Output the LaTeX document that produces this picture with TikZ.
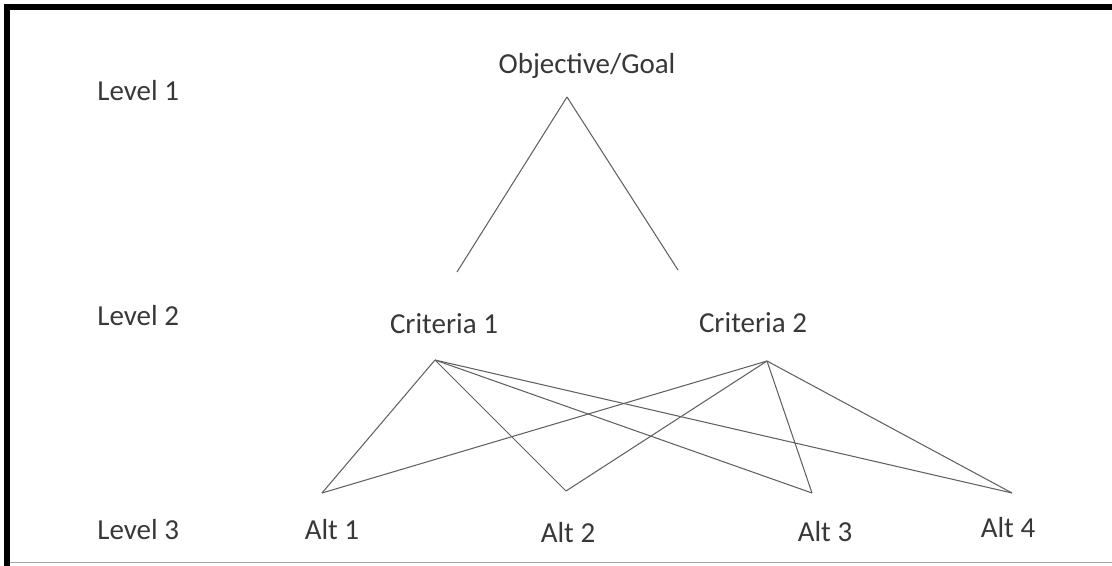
\documentclass[tikz,border=0pt]{standalone}
\usepackage{fontspec}
\setmainfont{Carlito}
\usetikzlibrary{positioning}

\begin{document}
\begin{tikzpicture}[
  x=0.02cm, y=-0.02cm,
  lbl/.style={inner sep=0pt, anchor=base, font=\fontsize{16.5}{20}\selectfont, text=black!78},
  lvl/.style={lbl, anchor=base west},
  link/.style={draw=black!62, line width=0.6pt}
]
  \useasboundingbox (0,0) rectangle (1112,565);
  \draw[line width=3.4pt] (7,568) -- (7,7) -- (1115,7);
  \draw[black!35, line width=0.5pt] (10,562) -- (1112,562);

  \node[lvl] (lv1) at (97,100) {Level 1};
  \node[lvl] (lv2) at (97,325) {Level 2};
  \node[lvl] (lv3) at (97,539) {Level 3};

  \node[lbl] (goal) at (587,73) {Objective/Goal};
  \node[lbl] (crit1) at (444,333) {Criteria 1};
  \node[lbl] (crit2) at (753,332) {Criteria 2};
  \node[lbl] (alt1) at (332,539) {Alt 1};
  \node[lbl] (alt2) at (568,542) {Alt 2};
  \node[lbl] (alt3) at (825,541) {Alt 3};
  \node[lbl] (alt4) at (1008,537) {Alt 4};

  % line ends, kept clear of the labels
  \coordinate (goal-b) at (567,97);
  \coordinate (crit1-t) at (457,272);
  \coordinate (crit2-t) at (678,270);
  \coordinate (crit1-b) at (435,360);
  \coordinate (crit2-b) at (767,361);
  \coordinate (alt1-t) at (322,493);
  \coordinate (alt2-t) at (566,491);
  \coordinate (alt3-t) at (812,493);
  \coordinate (alt4-t) at (1012,493);

  \draw[link] (goal-b) -- (crit1-t);
  \draw[link] (goal-b) -- (crit2-t);
  \draw[link] (crit1-b) -- (alt1-t);
  \draw[link] (crit1-b) -- (alt2-t);
  \draw[link] (crit1-b) -- (alt3-t);
  \draw[link] (crit1-b) -- (alt4-t);
  \draw[link] (crit2-b) -- (alt1-t);
  \draw[link] (crit2-b) -- (alt2-t);
  \draw[link] (crit2-b) -- (alt3-t);
  \draw[link] (crit2-b) -- (alt4-t);
\end{tikzpicture}
\end{document}
